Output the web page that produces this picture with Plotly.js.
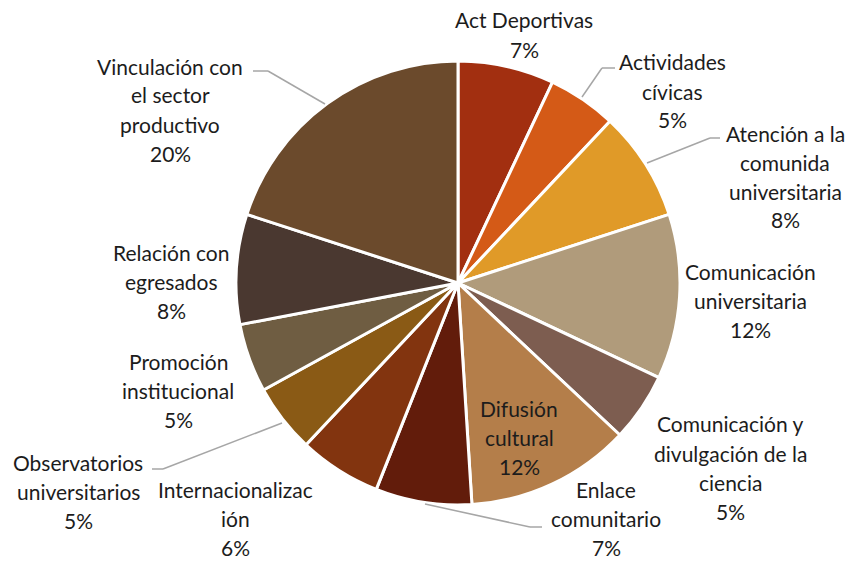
<!DOCTYPE html>
<html><head><meta charset="utf-8">
<script src="https://cdn.plot.ly/plotly-3.0.1.min.js"></script>
<style>html,body{margin:0;padding:0;background:#fff}#c{width:854px;height:561px}</style>
</head><body><div id="c"></div>
<script>
const categories = ["Act Deportivas","Actividades cívicas","Atención a la comunida universitaria","Comunicación universitaria","Comunicación y divulgación de la ciencia","Difusión cultural","Enlace comunitario","Internacionalización","Observatorios universitarios","Promoción institucional","Relación con egresados","Vinculación con el sector productivo"];
const values = [7,5,8,12,5,12,7,6,5,5,8,20];
const colors = ["#A22F10","#D45A17","#E09A28","#B09B7B","#7D5D50","#B47E4A","#621C0B","#82340F","#8A5A15","#6F5D42","#4A3830","#6B4A2C"];
// label text as displayed (line-wrapped), value appended
const labelLines = [
  ["Act Deportivas"],
  ["Actividades","cívicas"],
  ["Atención a la","comunida","universitaria"],
  ["Comunicación","universitaria"],
  ["Comunicación y","divulgación de la","ciencia"],
  ["Difusión","cultural"],
  ["Enlace","comunitario"],
  ["Internacionalizac","ión"],
  ["Observatorios","universitarios"],
  ["Promoción","institucional"],
  ["Relación con","egresados"],
  ["Vinculación con","el sector","productivo"]
];
// label block positions (pixel centres of first line)
const labelPos = [[524,20],[672,62],[785,133],[750,271],[730,424],[519,408],[606,489],[236,489],[78,462],[178,361],[171,252],[170,66]];
const W=854,H=561, LH=29;
const px = x => x/W, py = y => 1 - y/H;
const total = values.reduce((a,b)=>a+b,0);
const annotations = [];
labelLines.forEach((lines,i)=>{
  const all = lines.concat([Math.round(values[i]/total*100)+"%"]);
  all.forEach((t,j)=>{
    annotations.push({text:t, x:px(labelPos[i][0]), y:py(labelPos[i][1]+j*LH), xref:"paper", yref:"paper",
      showarrow:false, xanchor:"center", yanchor:"middle", borderpad:0,
      font:{family:"Lato, 'Open Sans', sans-serif", size:21, color:"#1c1c1c"}});
  });
});
const leaders = [
  [[253,71],[268,71],[325,104]],
  [[615,68],[602,68],[582,97]],
  [[720,138],[710,138],[647,163]],
  [[152,469],[163,469],[282,423]],
  [[542,527],[530,527],[425,504]]
];
const shapes = [];
leaders.forEach(pts=>{
  for(let k=0;k<pts.length-1;k++){
    shapes.push({type:"line", xref:"paper", yref:"paper", x0:px(pts[k][0]), y0:py(pts[k][1]), x1:px(pts[k+1][0]), y1:py(pts[k+1][1]), line:{color:"#A6A6A6", width:1.5}});
  }
});
const trace = {type:"pie", labels:categories, values:values, sort:false, direction:"clockwise", rotation:0,
  marker:{colors:colors, line:{color:"#ffffff", width:3}}, textinfo:"none", hoverinfo:"label+percent",
  domain:{x:[px(236),px(680)], y:[py(505),py(61)]}, showlegend:false};
Plotly.newPlot("c",[trace],{width:W,height:H,margin:{l:0,r:0,t:0,b:0},paper_bgcolor:"#fff",annotations:annotations,shapes:shapes},{displayModeBar:false,staticPlot:true});
</script></body></html>
